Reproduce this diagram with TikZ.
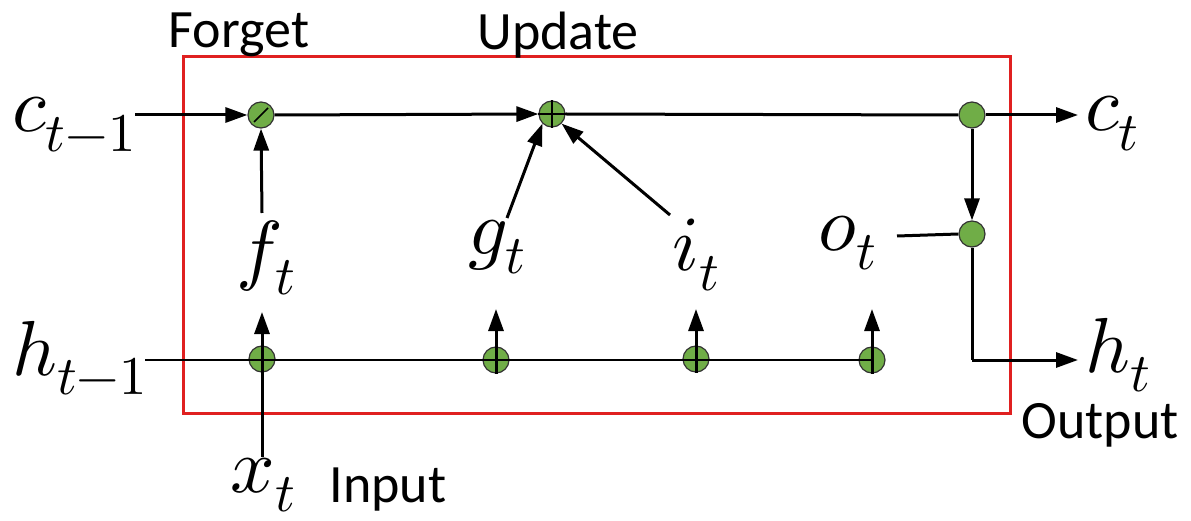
\documentclass[tikz,border=0pt]{standalone}
\usepackage{fontspec}
\usepackage{unicode-math}
\setmathfont{Latin Modern Math}
\setsansfont{Carlito}
\usetikzlibrary{arrows.meta,calc}
\definecolor{gatefill}{HTML}{70AD47}
\definecolor{boxred}{HTML}{E02020}
\tikzset{
  gate/.style={circle, draw=black!80, line width=1.2pt, fill=gatefill, minimum size=26pt, inner sep=0pt},
  conn/.style={line width=3pt},
  arr/.style={conn, -{Triangle[length=22pt,width=15pt]}},
  thin/.style={line width=1.4pt},
  lbl/.style={font=\sffamily\fontsize{54}{54}\selectfont, inner sep=0pt},
  mathlbl/.style={font=\fontsize{78}{78}\selectfont, inner sep=0pt}
}
\begin{document}
\begin{tikzpicture}[x=1pt,y=-1pt]
\useasboundingbox (0,0) rectangle (1191,521);
\fill[white] (0,0) rectangle (1191,521);
% box
\node[draw=boxred, line width=3pt, minimum width=827pt, minimum height=356pt, inner sep=0pt] (box) at (596.5,235) {};
% texts
\node[lbl] (forget) at (239,35) {Forget};
\node[lbl] (update) at (558,35) {Update};
\node[lbl] (output) at (1100,425) {Output};
\node[lbl] (input) at (388,490) {Input};
\node[mathlbl, anchor=base west] (cprev) at (12,132) {$c_{t-1}$};
\node[mathlbl, anchor=base west] (ct) at (1085,131) {$c_t$};
\node[mathlbl, anchor=base west] (hprev) at (12,375) {$h_{t-1}$};
\node[mathlbl, anchor=base west] (ht) at (1085,372) {$h_t$};
\node[mathlbl] (ft) at (266,258) {$f_t$};
\node[mathlbl] (gt) at (497,247) {$g_t$};
\node[mathlbl] (it) at (696,255) {$i_t$};
\node[mathlbl] (ot) at (848,243) {$o_t$};
\node[mathlbl] (xt) at (263,485) {$x_t$};
% gates
\node[gate] (fg) at (261,115) {};
\node[gate] (ug) at (552,114) {};
\node[gate] (cg) at (972,115) {};
\node[gate] (og) at (972,234) {};
\node[gate] (b1) at (262,359) {};
\node[gate] (b2) at (496,360) {};
\node[gate] (b3) at (696,359) {};
\node[gate] (b4) at (872,360) {};
% symbols in gates
\draw[line width=1.6pt] ($(fg.center)+(-7,7)$) -- ($(fg.center)+(7,-7)$);
\draw[line width=1.6pt] (ug.north) -- (ug.south) (ug.west) -- (ug.east);
% coordinates
\coordinate (cstart) at (135,115);
\coordinate (hstart) at (145,360);
\coordinate (ctip) at (1078,115);
\coordinate (htip) at (1078,360);
\coordinate (ocorner) at (972,360);
\coordinate (otend) at (897,236);
\coordinate (up1) at (262,312);
\coordinate (up2) at (496,309);
\coordinate (up3) at (696,309);
\coordinate (up4) at (872,309);
\coordinate (xtop) at (262,457);
\coordinate (ftop) at (262,213);
\coordinate (gtop) at (507,218);
\coordinate (itop) at (670,215);
% top line
\draw[arr] (cstart) -- (fg.west);
\draw[arr] (fg.east) -- (ug.west);
\draw[conn] (ug.east) -- (cg.west);
\draw[arr] (cg.east) -- (ctip);
% output path
\draw[arr] (cg.south) -- (og.north);
\draw[conn] (otend) -- (og.west);
\draw[conn] (og.south) -- (ocorner);
\draw[arr] (ocorner) -- (htip);
% h line
\draw[thin] (hstart) -- (b4.center);
% arrows from bottom gates
\draw[arr] (xtop) -- (up1);
\draw[arr] (b2.south) -- (up2);
\draw[arr] (b3.south) -- (up3);
\draw[arr] (b4.south) -- (up4);
% gate-value arrows
\draw[arr] (ftop) -- (fg.south);
\draw[arr] (gtop) -- (ug.south west);
\draw[arr] (itop) -- (ug.south east);
\end{tikzpicture}
\end{document}
